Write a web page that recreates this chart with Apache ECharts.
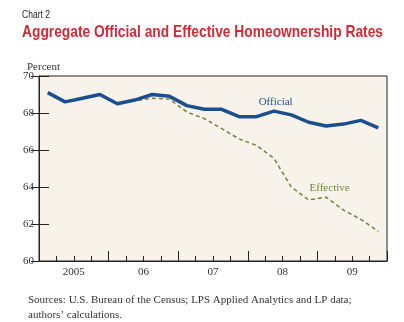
<!DOCTYPE html>
<html><head><meta charset="utf-8">
<script src="https://cdn.jsdelivr.net/npm/echarts@6/dist/echarts.min.js"></script>
<style>html,body{margin:0;padding:0;background:#fff}#c{width:404px;height:322px}</style>
</head><body><div id="c"></div>
<script>
// Quarterly data, 2005 Q1 .. 2009 Q4
var quarters = ['2005Q1','2005Q2','2005Q3','2005Q4','2006Q1','2006Q2','2006Q3','2006Q4','2007Q1','2007Q2','2007Q3','2007Q4','2008Q1','2008Q2','2008Q3','2008Q4','2009Q1','2009Q2','2009Q3','2009Q4'];
var official = [69.1,68.6,68.8,69.0,68.5,68.7,69.0,68.9,68.4,68.2,68.2,67.8,67.8,68.1,67.9,67.5,67.3,67.4,67.6,67.2];
var effective = [null,null,null,null,68.5,68.65,68.8,68.75,68.05,67.7,67.15,66.6,66.25,65.55,64.0,63.3,63.45,62.75,62.25,61.6];
var yearLabels = {2:'2005',6:'06',10:'07',14:'08',18:'09'};
var titleText = 'Aggregate Official and Effective Homeownership Rates';
var chartNo = 'Chart 2';
var sourceText = 'Sources: U.S. Bureau of the Census; LPS Applied Analytics and LP data;\nauthors\u2019 calculations.';

function pairs(arr){ var out=[]; arr.forEach(function(v,i){ if(v!==null) out.push([i+0.5,v]); }); return out; }

var serif = '"Liberation Serif","DejaVu Serif",serif';
var sans = '"Liberation Sans",Arial,sans-serif';
// horizontal condensing for the narrow headline face
var cv = document.createElement('canvas').getContext('2d');
cv.font = 'bold 17px ' + sans;
var titleScale = 361 / cv.measureText(titleText).width;
cv.font = '10px ' + sans;
var chartNoScale = 28 / cv.measureText(chartNo).width;

var chart = echarts.init(document.getElementById('c'), null, {renderer:'canvas'});
chart.setOption({
  animation:false,
  backgroundColor:'#fff',
  title:[
    {text:'Percent', left:22, top:57, textStyle:{fontFamily:serif, fontSize:11, fontWeight:'normal', color:'#333'}},
    {text:sourceText, left:23, top:288, textStyle:{fontFamily:serif, fontSize:11, fontWeight:'normal', color:'#333', lineHeight:15}}
  ],
  graphic:[
    {type:'text', left:22, top:10, scaleX:chartNoScale, originX:0, style:{text:chartNo, font:'10px '+sans, fill:'#222'}},
    {type:'text', x:22, y:24, scaleX:titleScale, originX:0, style:{text:titleText, font:'bold 17px '+sans, fill:'#d22a36'}}
  ],
  grid:{left:39, right:17, top:76, bottom:61, show:true, backgroundColor:'#f7f3ea', borderColor:'#222', borderWidth:1},
  xAxis:[
    {type:'value', min:0, max:20, interval:1, position:'bottom',
     axisLine:{show:true, lineStyle:{color:'#222'}},
     axisTick:{show:true, inside:true, length:5, lineStyle:{color:'#222'}},
     splitLine:{show:false},
     axisLabel:{show:true, margin:6, color:'#333', fontFamily:serif, fontSize:11, formatter:function(v){return yearLabels[v]||'';}}},
    {type:'value', min:0, max:20, interval:4, position:'bottom',
     axisLine:{show:false},
     axisTick:{show:true, inside:true, length:10, lineStyle:{color:'#222'}},
     splitLine:{show:false}, axisLabel:{show:false}}
  ],
  yAxis:[
    {type:'value', min:60, max:70, interval:2, position:'left',
     axisLine:{show:true, lineStyle:{color:'#222'}},
     axisTick:{show:true, inside:true, length:10, lineStyle:{color:'#222'}},
     splitLine:{show:false},
     axisLabel:{show:true, margin:5, color:'#333', fontFamily:serif, fontSize:11}},
    {type:'value', min:60, max:70, interval:2, position:'right',
     axisLine:{show:true, lineStyle:{color:'#222'}},
     axisTick:{show:true, inside:true, length:8, lineStyle:{color:'#222'}},
     splitLine:{show:false}, axisLabel:{show:false}}
  ],
  series:[
    {name:'Effective', type:'line', data:pairs(effective), symbol:'none', smooth:false,
     lineStyle:{color:'#74803e', width:1.5, type:[4,3]}, z:2,
     markPoint:{symbol:'circle', symbolSize:0, data:[{coord:[16.7,63.95], label:{show:true, formatter:'Effective', color:'#6f8a3a', fontFamily:serif, fontSize:11}}]}},
    {name:'Official', type:'line', data:pairs(official), symbol:'none', smooth:false,
     lineStyle:{color:'#1a4e8e', width:3.5}, z:3,
     markPoint:{symbol:'circle', symbolSize:0, data:[{coord:[13.6,68.6], label:{show:true, formatter:'Official', color:'#2d4f8a', fontFamily:serif, fontSize:11}}]}}
  ]
});
</script></body></html>
